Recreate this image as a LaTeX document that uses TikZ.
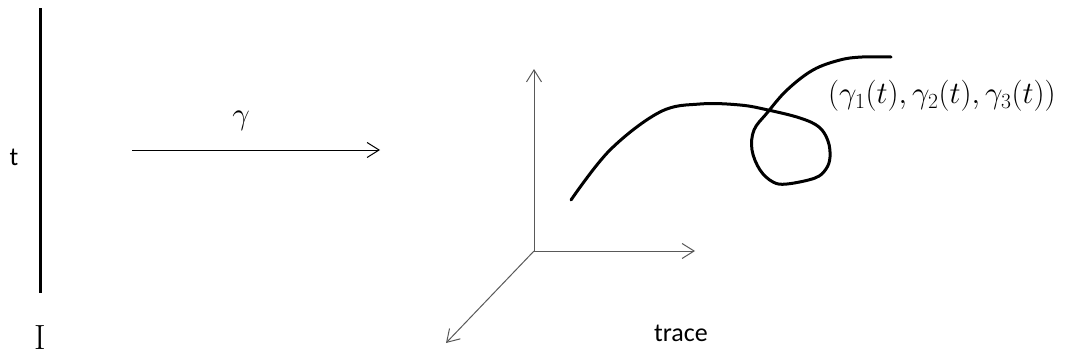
\documentclass[tikz,border=0pt]{standalone}
\usepackage{fontspec}
\newfontfamily\calfont{Carlito}
\usetikzlibrary{arrows.meta}
\newcommand{\bigmath}[1]{\scalebox{1.25}{\fontsize{24}{24}\selectfont$#1$}}
\begin{document}
\begin{tikzpicture}[x=1pt,y=-1pt,
  barb/.style={-{Straight Barb[length=12pt,width=15pt]}},
  axis/.style={barb,line width=1pt,draw=black!65},
  curve/.style={line width=3pt,line cap=round,line join=round},
  sanslabel/.style={font=\calfont\fontsize{26}{26}\selectfont,inner sep=0pt},
  mathlabel/.style={inner sep=0pt}]
\useasboundingbox (0,0) rectangle (1065,356);
% interval
\coordinate (Itop) at (40,8);
\coordinate (Ibot) at (40,293);
\draw[line width=3pt] (Itop) -- (Ibot);
\node[sanslabel] (tlab) at (14,157) {t};
\node[font=\fontsize{35}{35}\selectfont,inner sep=0pt,anchor=base] (Ilab) at (40,349) {I};
% map arrow
\coordinate (ms) at (132,150);
\coordinate (me) at (380,150);
\draw[barb,line width=1pt] (ms) -- (me);
\node[mathlabel] (gam) at (241,121) {\bigmath{\gamma}};
% axes
\coordinate (O) at (534,251);
\coordinate (zax) at (534,69);
\coordinate (yax) at (695,251);
\coordinate (xax) at (446,343);
\draw[axis] (O) -- (zax);
\draw[axis] (O) -- (yax);
\draw[axis] (O) -- (xax);
\node[sanslabel] (trace) at (681,333) {trace};
% curve
\draw[curve] plot[smooth,tension=0.6] coordinates {
 (571,200) (610,150) (660,112) (700,104) (740,105) (768,110) (800,118)
 (819,127) (828,141) (830,157) (826,169) (815,178) (787,184) (773,182)
 (760,170) (752,150) (754,130) (767,113) (787,90) (813,70) (840,60)
 (862,57) (891,57)};
\node[mathlabel,anchor=west] (coords) at (828,96)
  {\bigmath{(\gamma_1(t),\gamma_2(t),\gamma_3(t))}};
\end{tikzpicture}
\end{document}
